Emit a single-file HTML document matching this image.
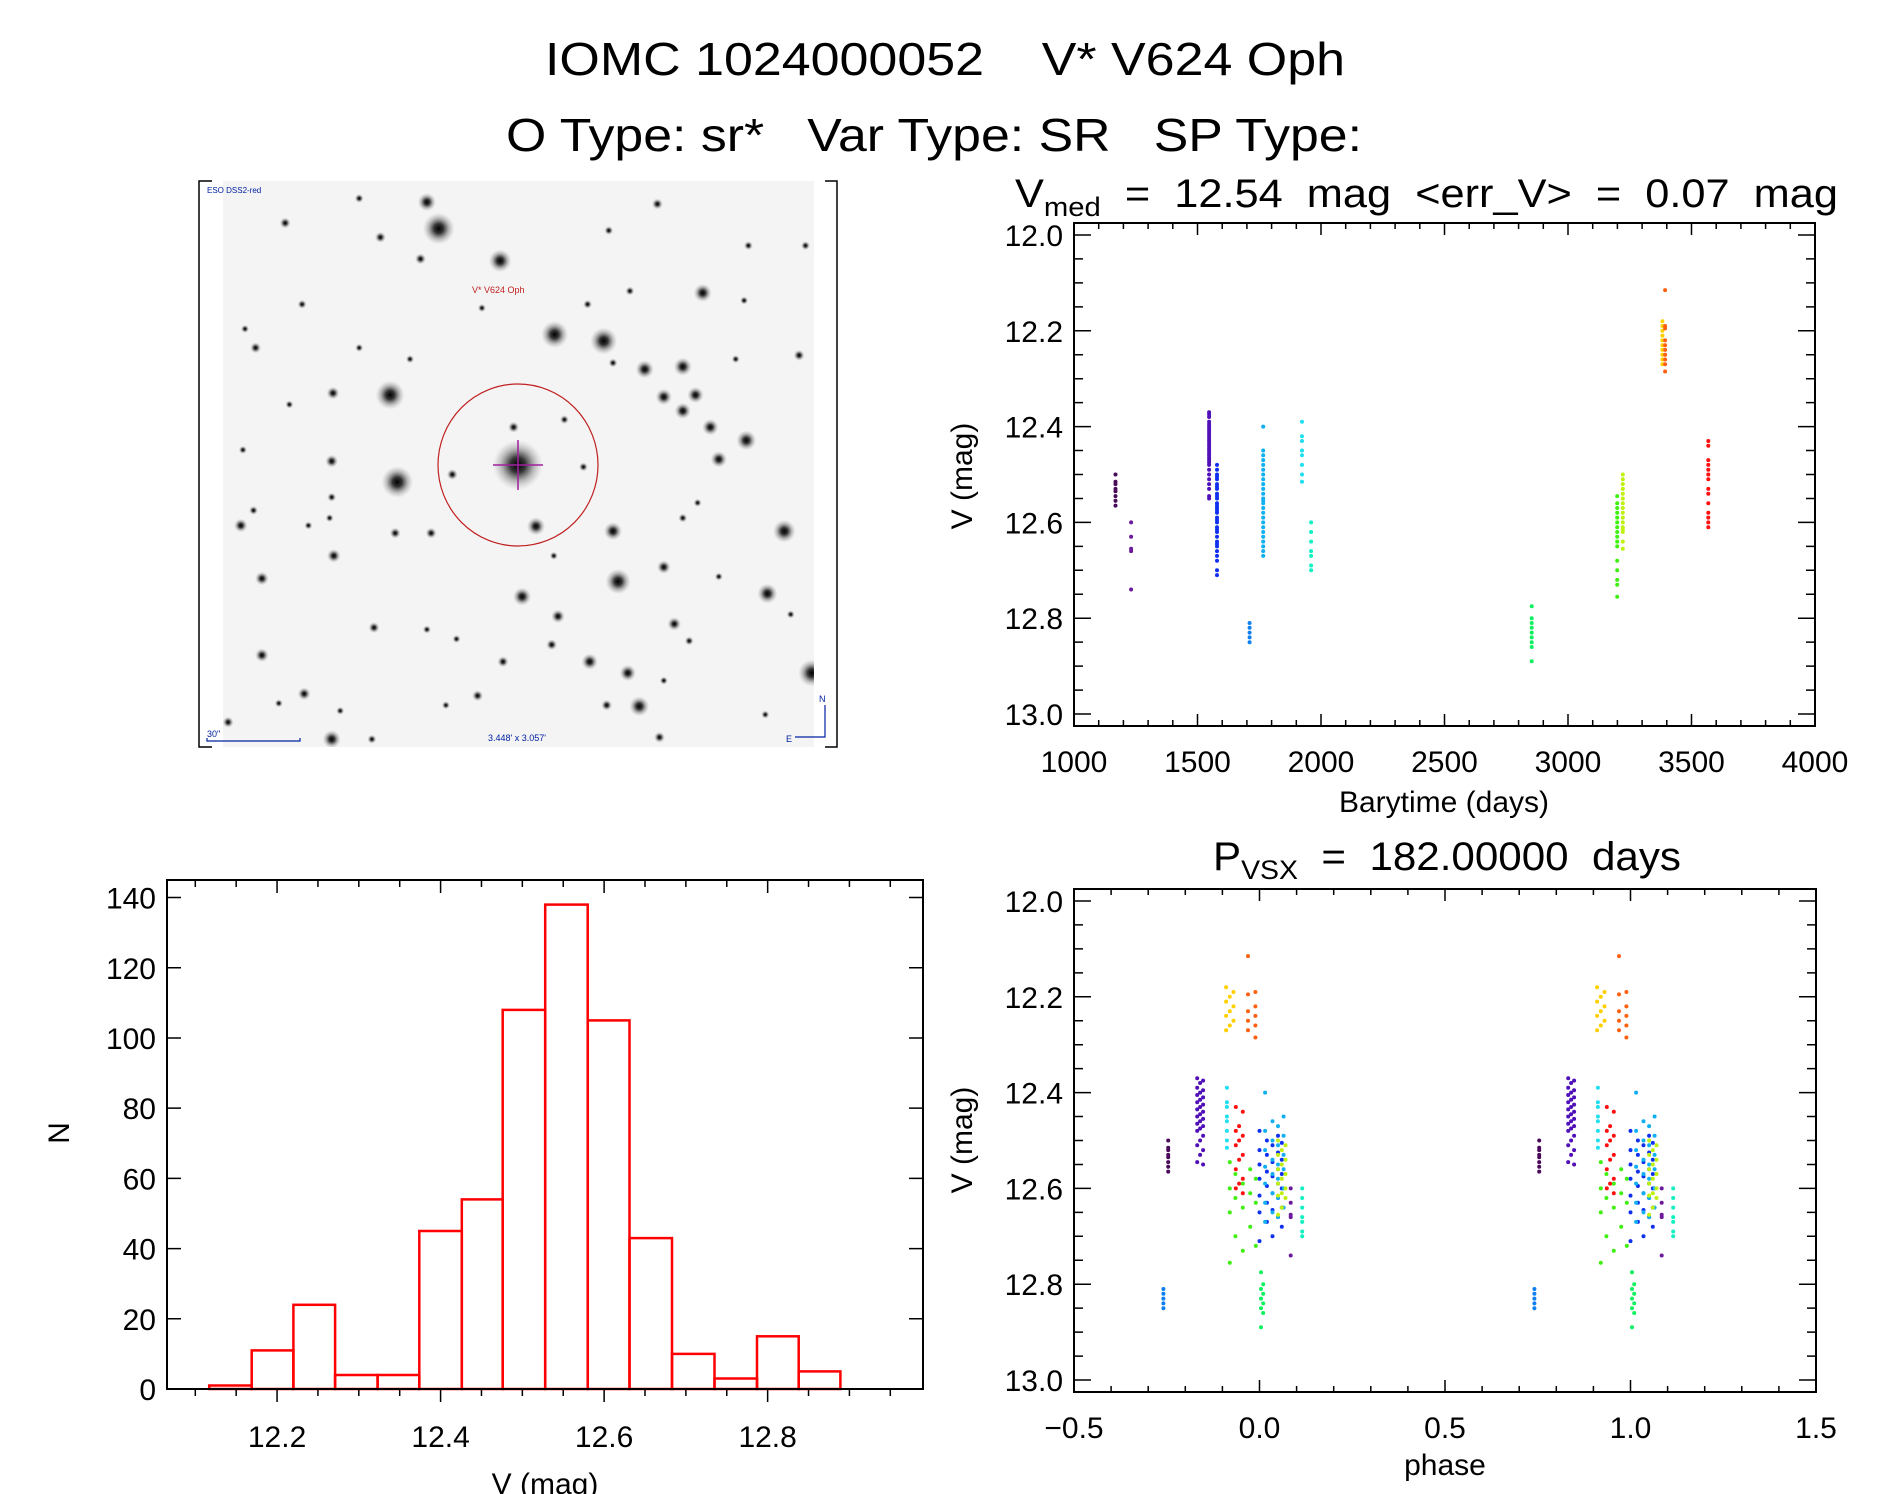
<!DOCTYPE html>
<html><head><meta charset="utf-8"><style>
html,body{margin:0;padding:0;background:#fff;}
svg{display:block;font-family:"Liberation Sans",sans-serif;}
text{white-space:pre;}
</style></head><body>
<svg id="fig" width="1889" height="1494" viewBox="0 0 1889 1494" xmlns="http://www.w3.org/2000/svg" xml:space="preserve">
<defs>
<radialGradient id="star"><stop offset="0" stop-color="#000" stop-opacity="1"/><stop offset="0.3" stop-color="#111" stop-opacity="0.85"/><stop offset="0.65" stop-color="#444" stop-opacity="0.35"/><stop offset="1" stop-color="#888" stop-opacity="0"/></radialGradient>
<clipPath id="imgclip"><rect x="223" y="181" width="591" height="566"/></clipPath>
</defs>
<text x="945" y="75" text-anchor="middle" font-size="46" textLength="800" lengthAdjust="spacingAndGlyphs">IOMC 1024000052    V* V624 Oph</text>
<text x="934" y="151" text-anchor="middle" font-size="46" textLength="856" lengthAdjust="spacingAndGlyphs">O Type: sr*   Var Type: SR   SP Type:</text>

<g id="sky">
<rect x="223" y="181" width="591" height="566" fill="#f4f4f4"/>
<g id="stars" clip-path="url(#imgclip)"></g>
<path d="M212,181 H199 V747 H212 M825,181 H837 V747 H825" fill="none" stroke="#000" stroke-width="1.5"/>
<ellipse cx="518" cy="465" rx="80" ry="81" fill="none" stroke="#c02020" stroke-width="1.2"/>
<path d="M518,440 V490 M493,465 H543" stroke="#a020a0" stroke-width="1.5"/>
<text x="472" y="293" font-size="9" fill="#c02020">V* V624 Oph</text>
<text x="207" y="193" font-size="8" fill="#0020a0">ESO DSS2-red</text>
<text x="207" y="737" font-size="9" fill="#0020a0">30"</text>
<path d="M207,738 V741 H300 V738" fill="none" stroke="#0020a0" stroke-width="1.2"/>
<text x="488" y="741" font-size="9" fill="#0020a0">3.448' x 3.057'</text>
<path d="M825,705 V737 H795" fill="none" stroke="#0020a0" stroke-width="1.2"/>
<text x="819" y="702" font-size="9" fill="#0020a0">N</text>
<text x="786" y="742" font-size="9" fill="#0020a0">E</text>
</g>

<g id="lc"></g>
<g id="ph"></g>
<g id="hist"></g>
</svg>
<script>
// ---- light curve data ----
const groupTimes = [1168,1231,1547,1579,1711,1766,1923,1960,2853,3199,3222,3382,3393,3568];
const groupColors = ["#4a0a5a","#6a1a9a","#5010b8","#1030f0","#1080f0","#10b0f0","#20e0f0","#10f0c0","#10f060","#40f010","#c0f010","#ffd000","#ff6010","#ff1010"];
const groupMags = [
 [12.50,12.515,12.52,12.53,12.535,12.545,12.555,12.565],
 [12.60,12.63,12.655,12.66,12.74],
 [12.37,12.375,12.38,12.39,12.395,12.40,12.405,12.41,12.415,12.42,12.425,12.43,12.435,12.44,12.445,12.45,12.455,12.46,12.465,12.47,12.475,12.48,12.49,12.50,12.51,12.52,12.53,12.545,12.55],
 [12.48,12.49,12.50,12.505,12.51,12.52,12.525,12.53,12.54,12.545,12.55,12.56,12.565,12.57,12.575,12.58,12.59,12.595,12.60,12.61,12.615,12.62,12.63,12.64,12.645,12.65,12.66,12.67,12.68,12.70,12.71],
 [12.81,12.82,12.83,12.84,12.85],
 [12.40,12.45,12.46,12.47,12.48,12.49,12.50,12.51,12.52,12.53,12.54,12.55,12.555,12.56,12.57,12.58,12.59,12.60,12.61,12.62,12.63,12.64,12.65,12.66,12.67],
 [12.39,12.42,12.43,12.45,12.46,12.48,12.50,12.515],
 [12.60,12.62,12.64,12.66,12.67,12.69,12.70],
 [12.775,12.80,12.81,12.82,12.83,12.84,12.85,12.86,12.89],
 [12.545,12.56,12.57,12.58,12.59,12.60,12.61,12.62,12.63,12.64,12.65,12.68,12.70,12.72,12.73,12.755],
 [12.50,12.51,12.52,12.53,12.54,12.55,12.56,12.57,12.58,12.59,12.60,12.61,12.615,12.62,12.64,12.655],
 [12.18,12.19,12.20,12.21,12.22,12.23,12.24,12.25,12.26,12.27],
 [12.115,12.19,12.195,12.22,12.23,12.24,12.25,12.26,12.27,12.285],
 [12.43,12.44,12.47,12.48,12.49,12.50,12.51,12.53,12.54,12.56,12.58,12.59,12.60,12.61]
];
const groupPhases = [[-0.246],[0.084],[-0.168,-0.152,-0.160],[0.0,0.05,0.02,0.06,0.035],[-0.259],[0.015,0.065,0.035,0.05],[-0.088],[0.115],[0.004,0.01],[-0.08,-0.025,-0.065,-0.01,-0.045],[0.05,0.07,0.06],[-0.09,-0.07,-0.08],[-0.031,-0.011],[-0.064,-0.045,-0.055]];
const magTicks = ["12.0","12.2","12.4","12.6","12.8","13.0"];
const timeTicks = ["1000","1500","2000","2500","3000","3500","4000"];
const phaseTicks = ["−0.5","0.0","0.5","1.0","1.5"];
// ---- histogram data ----
const histEdges = [12.117,12.169,12.220,12.271,12.323,12.374,12.426,12.476,12.528,12.580,12.631,12.683,12.735,12.787,12.838,12.889];
const histCounts = [1,11,24,4,4,45,54,108,138,105,43,10,3,15,5];
const histXTicks = ["12.2","12.4","12.6","12.8"];
const histYTicks = ["0","20","40","60","80","100","120","140"];

const NS="http://www.w3.org/2000/svg";
function mk(tag,attrs,parent){const e=document.createElementNS(NS,tag);for(const k in attrs)e.setAttribute(k,attrs[k]);parent.appendChild(e);return e;}

// stars
const starList=[[588,155,35],[733,240,25],[560,85,20],[862,435,30],[978,452,30],[473,595,32],[490,825,35],[775,780,55],[1212,325,20],[1075,527,20],[1165,520,20],[1120,600,18],[1195,595,18],[1165,637,18],[1230,680,18],[1315,715,22],[1250,765,18],[1405,955,25],[1012,1088,28],[1000,955,20],[818,942,20],[785,1128,20],[1365,1120,22],[1470,1330,30],[1062,1418,22],[1035,1330,18],[945,1300,18],[870,1180,15],[1120,1050,15],[1145,1200,15],[170,1080,15],[170,1283,15],[120,940,15],[338,590,14],[335,770,14],[340,1020,15],[225,140,12],[450,178,12],[545,235,12],[1105,90,12],[620,805,12],[765,680,12],[930,785,10],[885,660,10],[485,960,12],[570,960,12],[270,1385,14],[435,1210,12],[855,1255,12],[740,1300,12],[335,1505,20],[680,1390,12],[1110,1500,12],[90,1460,12],[155,470,12],[990,160,10],[1320,200,10],[1440,490,12],[265,355,10],[1455,200,10],[1040,320,10],[940,355,10],[400,75,10],[1310,345,9],[1165,920,10],[335,865,10],[280,940,9],[150,900,10],[985,1415,12],[1180,1245,10],[605,1415,9],[355,1430,9],[1360,1440,9],[430,1505,10],[1000,510,10],[130,420,9],[400,470,9],[520,500,9],[690,365,9],[1290,500,9],[1200,880,9],[1250,1075,9],[1420,1175,9],[560,1215,9],[630,1240,9],[235,620,9],[125,740,9],[210,1410,9],[1120,1350,9],[860,1020,9],[330,920,9]];
const sg=document.getElementById('stars');
starList.forEach(s=>{const c=mk('circle',{cx:(s[0]/2.364+190).toFixed(1),cy:(s[1]/2.644+170).toFixed(1),r:(s[2]/2.2).toFixed(1),fill:'url(#star)'},sg);

});

function axesBox(g,L,T,R,B){mk('rect',{x:L,y:T,width:R-L,height:B-T,fill:'none',stroke:'#000','stroke-width':2},g);}
function txt(g,x,y,s,size,anchor,extra){const t=mk('text',Object.assign({x:x,y:y,'font-size':size,'text-anchor':anchor||'middle'},extra||{}),g);t.textContent=s;return t;}

function magPanel(g,T,B,xFn,xMajor,xMinor,xLabels,L,R){
 const yFn=m=>T+(m-11.975)/1.05*(B-T);
 axesBox(g,L,T,R,B);
 let d="";
 for(let i=0;i<=20;i++){const m=12.0+i*0.05;const y=yFn(m);const len=(i%4==0)?17:9;d+=`M${L},${y}h${len}M${R},${y}h${-len}`;}
 xMinor.forEach(v=>{const x=xFn(v);d+=`M${x},${B}v-6M${x},${T}v6`;});
 xMajor.forEach(v=>{const x=xFn(v);d+=`M${x},${B}v-12M${x},${T}v12`;});
 mk('path',{d:d,stroke:'#000','stroke-width':1.5,fill:'none'},g);
 magTicks.forEach((s,i)=>{const t=txt(g,1063,yFn(12+0.2*i)+11,s,30,'end');
 
 });
 return yFn;
}
(function(){
 const g=document.getElementById('lc');const L=1074,R=1815,T=223,B=726;
 const xFn=t=>L+(t-1000)/3000*(R-L);
 const minor=[];for(let v=1000;v<=4000;v+=100)minor.push(v);
 const yFn=magPanel(g,T,B,xFn,[1000,1500,2000,2500,3000,3500,4000],minor,null,L,R);
 timeTicks.forEach(s=>{const t=txt(g,xFn(+s),772,s,30);
 
 });
 const xt=txt(g,1444,812,'Barytime (days)',30);
 
 
 const yt=txt(g,0,0,'V (mag)',30,'middle',{transform:'translate(972,476) rotate(-90)'});
 
 
 const tt=mk('text',{x:1015,y:207,'font-size':40,textLength:823,lengthAdjust:'spacingAndGlyphs'},g);
 tt.innerHTML='V<tspan font-size="27" dy="9">med</tspan><tspan dy="-9">  =  12.54  mag  &lt;err_V&gt;  =  0.07  mag</tspan>';
 
 
 groupMags.forEach((ms,gi)=>{ms.forEach(m=>{const c=mk('circle',{cx:xFn(groupTimes[gi]).toFixed(1),cy:yFn(m).toFixed(1),r:2,fill:groupColors[gi]},g);
 
 });});
})();
(function(){
 const g=document.getElementById('ph');const L=1074,R=1816,T=889,B=1392;
 const xFn=p=>L+(p+0.5)/2*(R-L);
 const minor=[];for(let i=0;i<=20;i++)minor.push(-0.5+i*0.1);
 const yFn=magPanel(g,T,B,xFn,[-0.5,0,0.5,1,1.5],minor,null,L,R);
 phaseTicks.forEach((s,i)=>{const t=txt(g,xFn(-0.5+0.5*i),1438,s,30);
 
 });
 const xt=txt(g,1445,1475,'phase',30);
 
 
 const yt=txt(g,0,0,'V (mag)',30,'middle',{transform:'translate(972,1140) rotate(-90)'});
 
 
 const tt=mk('text',{x:1213,y:870,'font-size':40,textLength:468,lengthAdjust:'spacingAndGlyphs'},g);
 tt.innerHTML='P<tspan font-size="27" dy="9">VSX</tspan><tspan dy="-9">  =  182.00000  days</tspan>';
 
 
 groupMags.forEach((ms,gi)=>{ms.forEach((m,i)=>{const p=groupPhases[gi][i%groupPhases[gi].length];
  [0,1].forEach(k=>{const c=mk('circle',{cx:xFn(p+k).toFixed(1),cy:yFn(m).toFixed(1),r:2,fill:groupColors[gi]},g);
  
  });});});
})();
(function(){
 const g=document.getElementById('hist');const L=167,R=923,T=880,B=1389;
 const xFn=v=>L+(v-12.0654)/(12.990-12.0654)*(R-L);
 const yFn=n=>B-n/145*(B-T);
 histCounts.forEach((n,i)=>{const x0=xFn(histEdges[i]),x1=xFn(histEdges[i+1]);
  const r=mk('rect',{x:x0.toFixed(1),y:yFn(n).toFixed(1),width:(x1-x0).toFixed(1),height:(B-yFn(n)).toFixed(1),fill:'none',stroke:'#ff0000','stroke-width':2.5},g);
  
  });
 axesBox(g,L,T,R,B);
 let d="";
 for(let i=0;i<=17;i++){const v=12.1+i*0.05;const x=xFn(v);const maj=Math.abs((v*10)%2)<0.01||Math.abs((v*10)%2-2)<0.01;const len=maj?13:7;d+=`M${x},${B}v${len}M${x},${T}v${len}`;}
 histYTicks.forEach(s=>{const y=yFn(+s);d+=`M${L},${y}h14M${R},${y}h-14`;});
 mk('path',{d:d,stroke:'#000','stroke-width':1.5,fill:'none'},g);
 histXTicks.forEach(s=>{const t=txt(g,xFn(+s),1447,s,30);
 
 });
 histYTicks.forEach(s=>{const t=txt(g,156,yFn(+s)+11,s,30,'end');
 
 });
 const xt=txt(g,545,1494,'V (mag)',30);
 
 
 const yt=txt(g,0,0,'N',30,'middle',{transform:'translate(69,1133) rotate(-90)'});
 
 
})();
</script>
</body></html>
